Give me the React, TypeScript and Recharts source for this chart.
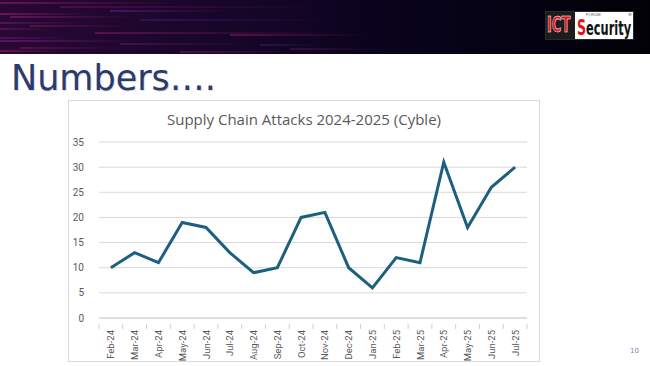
import React from "react";
import { LineChart, Line, XAxis, YAxis, CartesianGrid } from "recharts";

const months = [
  "Feb-24", "Mar-24", "Apr-24", "May-24", "Jun-24", "Jul-24", "Aug-24", "Sep-24", "Oct-24",
  "Nov-24", "Dec-24", "Jan-25", "Feb-25", "Mar-25", "Apr-25", "May-25", "Jun-25", "Jul-25",
];
const attacks = [10, 13, 11, 19, 18, 13, 9, 10, 20, 21, 10, 6, 12, 11, 31, 18, 26, 30];
const yTicks = [0, 5, 10, 15, 20, 25, 30, 35];

const data = months.map((m, i) => ({ month: m, attacks: attacks[i] }));

const streaks = [
  { t: 2, l: 0, w: 180, c: "rgba(150,30,110,0.55)" },
  { t: 6, l: 60, w: 260, c: "rgba(120,20,100,0.45)" },
  { t: 10, l: 110, w: 120, c: "rgba(90,40,150,0.5)" },
  { t: 13, l: 0, w: 90, c: "rgba(170,40,120,0.5)" },
  { t: 16, l: 10, w: 130, c: "rgba(140,30,120,0.55)" },
  { t: 19, l: 140, w: 200, c: "rgba(70,30,140,0.45)" },
  { t: 22, l: 0, w: 80, c: "rgba(120,30,130,0.5)" },
  { t: 25, l: 30, w: 100, c: "rgba(160,30,100,0.4)" },
  { t: 28, l: 0, w: 50, c: "rgba(130,30,120,0.45)" },
  { t: 32, l: 95, w: 240, c: "rgba(150,30,110,0.45)" },
  { t: 34, l: 230, w: 140, c: "rgba(170,30,90,0.45)" },
  { t: 37, l: 0, w: 70, c: "rgba(110,30,150,0.45)" },
  { t: 40, l: 0, w: 140, c: "rgba(150,40,130,0.45)" },
  { t: 43, l: 120, w: 130, c: "rgba(120,30,120,0.4)" },
  { t: 47, l: 20, w: 100, c: "rgba(130,30,110,0.45)" },
  { t: 50, l: 0, w: 60, c: "rgba(170,30,110,0.5)" },
  { t: 51, l: 180, w: 110, c: "rgba(140,30,110,0.45)" },
  { t: 48, l: 290, w: 90, c: "rgba(120,30,120,0.35)" },
  { t: 44, l: 260, w: 60, c: "rgba(90,40,160,0.35)" },
];

const MonthTick = (props: any) => {
  const { x, y, payload, index, visibleTicksCount } = props;
  const half = payload && payload.offset ? payload.offset : 11.9;
  const last = index === (visibleTicksCount ? visibleTicksCount - 1 : months.length - 1);
  return (
    <g>
      <line x1={x - half} x2={x - half} y1={y} y2={y + 5} stroke="#d0d0d0" />
      {last && <line x1={x + half} x2={x + half} y1={y} y2={y + 5} stroke="#d0d0d0" />}
      <text
        x={x}
        y={y + 6}
        transform={`rotate(-90, ${x}, ${y + 6})`}
        textAnchor="end"
        dominantBaseline="central"
        fontSize={9.5}
        fill="#595959"
        fontFamily="Roboto, 'Noto Sans', sans-serif"
      >
        {payload.value}
      </text>
    </g>
  );
};

export default function App() {
  return (
    <div style={{ position: "absolute", left: 0, top: 0, width: 650, height: 366, overflow: "hidden", background: "#ffffff", fontFamily: "'DejaVu Sans', sans-serif" }}>
      <div style={{ position: "absolute", left: 0, top: 0, width: 650, height: 54, background: "linear-gradient(90deg, #2a0834 0%, #170629 35%, #07031a 65%, #020108 100%)" }}>
        {streaks.map((s, i) => (
          <div key={i} style={{ position: "absolute", top: s.t, left: s.l, width: s.w, height: 2, background: `linear-gradient(90deg, ${s.c}, rgba(0,0,0,0))` }} />
        ))}
        <div style={{ position: "absolute", left: 545, top: 11, width: 89, height: 29, background: "#ffffff", border: "1px solid #2a2a2a", boxSizing: "border-box", overflow: "hidden" }}>
          <div style={{ position: "absolute", left: 0, top: 0, width: 29, height: 27, background: "#1c1c1c" }}>
            <div style={{ position: "absolute", left: 1, top: 0, color: "#e0141e", fontFamily: "'DejaVu Sans', sans-serif", fontWeight: 700, fontSize: 21, lineHeight: "27px", transform: "scaleX(0.62)", transformOrigin: "left center", WebkitTextStroke: "0.6px #ffffff", whiteSpace: "nowrap" }}>ICT</div>
          </div>
          <div style={{ position: "absolute", left: 40, top: 0, fontSize: 4, lineHeight: "5px", color: "#555", fontFamily: "sans-serif" }}>FORUM</div>
          <div style={{ position: "absolute", left: 31, top: 6, fontFamily: "'DejaVu Sans', sans-serif", fontWeight: 700, fontSize: 19, lineHeight: "20px", color: "#111", transform: "scaleX(0.6)", transformOrigin: "left center", whiteSpace: "nowrap" }}>
            <span style={{ color: "#e0141e", fontSize: 21 }}>S</span>ecurity
          </div>
          <div style={{ position: "absolute", right: 1, top: 0, fontSize: 4, lineHeight: "5px", color: "#333" }}>®</div>
        </div>
      </div>
      <div style={{ position: "absolute", left: 11, top: 57, fontSize: 35, color: "#2b3a6e", fontFamily: "'DejaVu Sans', sans-serif", lineHeight: "42px", textShadow: "1px 1px 1px rgba(0,0,0,0.15)" }}>
        Numbers….
      </div>
      <div style={{ position: "absolute", left: 68, top: 100, width: 472, height: 262, border: "1px solid #d9d9d9", boxSizing: "border-box", background: "#fff" }}>
        <div style={{ position: "absolute", left: 0, top: 8, width: 470, textAlign: "center", fontSize: 15, color: "#595959", fontFamily: "'Open Sans', sans-serif" }}>
          Supply Chain Attacks 2024-2025 (Cyble)
        </div>
        <div style={{ position: "absolute", left: -1, top: -1 }}>
          <LineChart width={472} height={262} data={data} margin={{ top: 42, right: 13, left: 0, bottom: 0 }}>
            <CartesianGrid vertical={false} stroke="#d9d9d9" />
            <XAxis
              dataKey="month"
              scale="band"
              interval={0}
              height={44}
              tickLine={false}
              tickMargin={0}
              axisLine={{ stroke: "#d0d0d0" }}
              tick={<MonthTick />}
            />
            <YAxis
              width={31}
              domain={[0, 35]}
              ticks={yTicks}
              axisLine={false}
              tickLine={false}
              tickMargin={9}
              tick={{ fontSize: 10, fill: "#595959", fontFamily: "Roboto, 'Noto Sans', sans-serif" }}
            />
            <Line type="linear" dataKey="attacks" stroke="#1d5f7e" strokeWidth={3} dot={false} isAnimationActive={false} />
          </LineChart>
        </div>
      </div>
      <div style={{ position: "absolute", left: 630, top: 347, fontSize: 7, color: "#7a8aa8", fontFamily: "'DejaVu Sans', sans-serif" }}>10</div>
    </div>
  );
}
